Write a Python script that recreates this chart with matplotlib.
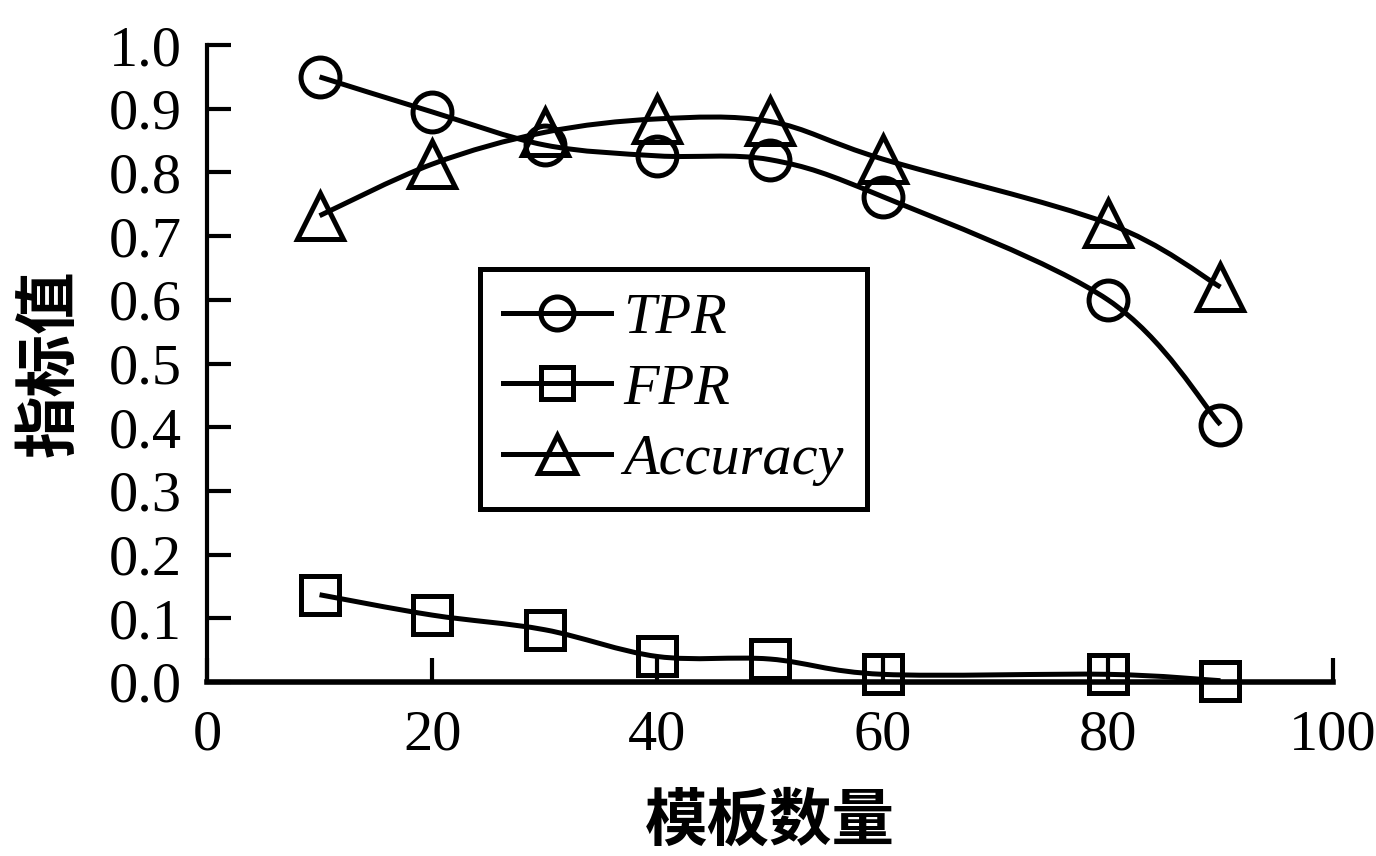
import matplotlib
matplotlib.use("Agg")
import matplotlib.pyplot as plt
from matplotlib.lines import Line2D
from matplotlib.patches import PathPatch
from matplotlib.path import Path

plt.rcParams["font.family"] = ["Liberation Serif", "Noto Sans CJK SC"]

templates = [10, 20, 30, 40, 50, 60, 80, 90]
tpr = [0.950, 0.895, 0.843, 0.826, 0.820, 0.762, 0.600, 0.404]
fpr = [0.137, 0.105, 0.082, 0.040, 0.036, 0.012, 0.012, 0.002]
accuracy = [0.732, 0.813, 0.863, 0.884, 0.880, 0.821, 0.720, 0.620]

series_names = ["TPR", "FPR", "Accuracy"]
series_markers = ["o", "s", "^"]
marker_sizes = [28, 27, 33]

y_ticks = [0.0, 0.1, 0.2, 0.3, 0.4, 0.5, 0.6, 0.7, 0.8, 0.9, 1.0]
x_ticks = [0, 20, 40, 60, 80, 100]


def smooth_path(xs, ys):
    # Catmull-Rom style curve through the points, drawn as cubic beziers
    pts = list(zip(xs, ys))
    n = len(pts)
    verts = [pts[0]]
    codes = [Path.MOVETO]
    for i in range(n - 1):
        p0 = pts[i - 1] if i > 0 else pts[i]
        p1 = pts[i]
        p2 = pts[i + 1]
        p3 = pts[i + 2] if i + 2 < n else pts[i + 1]
        c1 = (p1[0] + (p2[0] - p0[0]) / 6, p1[1] + (p2[1] - p0[1]) / 6)
        c2 = (p2[0] - (p3[0] - p1[0]) / 6, p2[1] - (p3[1] - p1[1]) / 6)
        verts += [c1, c2, p2]
        codes += [Path.CURVE4] * 3
    return Path(verts, codes)


fig = plt.figure(figsize=(13.76, 8.56), dpi=100)
ax = fig.add_axes([0.1504, 0.2033, 0.8184, 0.7441])

LW = 3.6
handles = []
for vals, name, mk, ms in zip([tpr, fpr, accuracy], series_names, series_markers, marker_sizes):
    ax.add_patch(PathPatch(smooth_path(templates, vals), facecolor="none",
                           edgecolor="black", lw=LW, zorder=3))
    ax.plot(templates, vals, linestyle="none", marker=mk, markersize=ms,
            markerfacecolor="none", markeredgecolor="black", markeredgewidth=LW,
            zorder=4, clip_on=False)
    handles.append(Line2D([], [], color="black", lw=LW, marker=mk, markersize=ms * 0.85,
                          markerfacecolor="none", markeredgecolor="black",
                          markeredgewidth=LW, label=name))

ax.set_xlim(0, 100)
ax.set_ylim(0, 1.0)
ax.set_xticks(x_ticks)
ax.set_yticks(y_ticks)
ax.set_yticklabels([f"{v:.1f}" for v in y_ticks])

for s in ["top", "right"]:
    ax.spines[s].set_visible(False)
ax.spines["left"].set_linewidth(3.0)
ax.spines["bottom"].set_linewidth(4.0)
ax.tick_params(axis="both", direction="in", length=17, width=3.0,
               labelsize=42, colors="black")
ax.tick_params(axis="y", pad=18)
ax.tick_params(axis="x", pad=20)

ax.set_xlabel("模板数量", fontsize=45, fontweight="bold",
              family=["Noto Sans CJK SC"], labelpad=20)
ax.set_ylabel("指标值", fontsize=45, fontweight="bold",
              family=["Noto Sans CJK SC"], labelpad=20)

leg = ax.legend(handles=handles, loc="upper left", bbox_to_anchor=(0.2425, 0.648),
                borderaxespad=0, fancybox=False, framealpha=1, edgecolor="black",
                prop={"family": "Liberation Serif", "style": "italic", "size": 42},
                handlelength=1.85, handletextpad=0.2, labelspacing=0.3,
                borderpad=0.4)
leg.get_frame().set_linewidth(LW)
leg.set_zorder(5)

fig.savefig("out.png", dpi=100)
